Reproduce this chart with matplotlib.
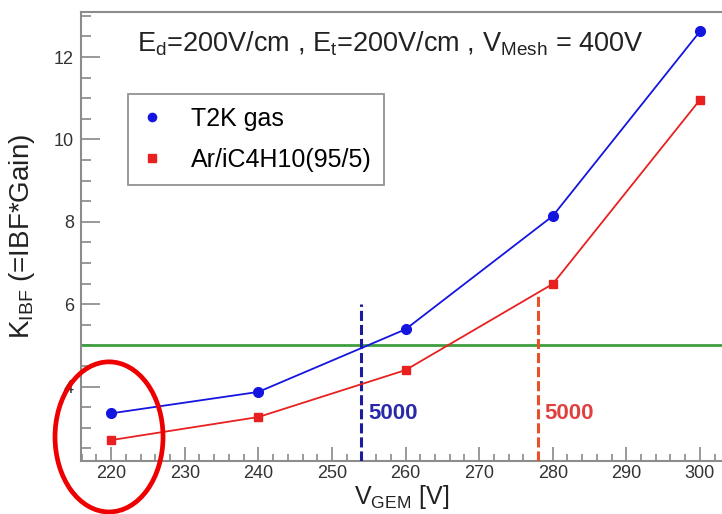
import matplotlib
matplotlib.use("Agg")
import matplotlib.pyplot as plt
from matplotlib.patches import Ellipse
from matplotlib.ticker import MultipleLocator

plt.rcParams['font.family'] = ['Liberation Sans', 'DejaVu Sans']
plt.rcParams['mathtext.fontset'] = 'custom'
plt.rcParams['mathtext.rm'] = 'Liberation Sans'
plt.rcParams['mathtext.it'] = 'Liberation Sans:italic'

# K_IBF vs GEM voltage for the two gas mixtures
v_gem = [220, 240, 260, 280, 300]
k_t2k = [3.35, 3.87, 5.39, 8.14, 12.62]
k_ar = [2.70, 3.26, 4.40, 6.49, 10.96]

k_limit = 5.0                 # horizontal reference level
gain_v = [254, 278]           # V_GEM where gain reaches 5000
gain_top = [6.0, 6.3]
gain_text = ["5000", "5000"]
gain_colors = ["#1c1c9c", "#e8502a"]
text_colors = ["#2a2aa8", "#e04040"]

fig = plt.figure(figsize=(7.22, 5.14), dpi=100)
ax = fig.add_axes([0.1122, 0.1037, 0.8878, 0.8735])

ax.set_xlim(215.9, 303.0)
ax.set_ylim(2.2, 13.1)

ax.axhline(k_limit, color="#3f9e3f", lw=2.0, zorder=2)
for x, top, c in zip(gain_v, gain_top, gain_colors):
    ax.vlines(x, 2.2, top, colors=c, lw=2.2, linestyles=(0, (3.3, 1.3)), zorder=3)
for x, t, c in zip(gain_v, gain_text, text_colors):
    ax.text(x + 0.9, 3.35, t, color=c, fontsize=16, fontweight="bold",
            va="center", ha="left")

ax.plot(v_gem, k_t2k, color="#1515e0", lw=1.3, marker="o", ms=7,
        label="T2K gas", zorder=4)
ax.plot(v_gem, k_ar, color="#e82020", lw=1.3, marker="s", ms=6,
        label="Ar/iC4H10(95/5)", zorder=4)

leg = ax.legend(loc="upper left", bbox_to_anchor=(0.0734, 0.8165), fontsize=18,
                frameon=True, fancybox=False, handlelength=0.9, handletextpad=1.1,
                borderpad=0.5, labelspacing=0.7, numpoints=1, borderaxespad=0,
                markerscale=0.85)
for h in leg.legend_handles:
    h.set_linestyle("None")
leg.get_frame().set_edgecolor("#777777")
leg.get_frame().set_linewidth(1.3)

ax.text(0.087, 0.911,
        r"E$_\mathregular{d}$=200V/cm , E$_\mathregular{t}$=200V/cm , "
        r"V$_\mathregular{Mesh}$ = 400V",
        transform=ax.transAxes, fontsize=19.5, color="#222222", va="baseline")

ax.xaxis.set_major_locator(MultipleLocator(10))
ax.xaxis.set_minor_locator(MultipleLocator(2))
ax.yaxis.set_major_locator(MultipleLocator(2))
ax.yaxis.set_minor_locator(MultipleLocator(0.5))
ax.tick_params(which="both", direction="in", color="#888888", width=1.2,
               labelsize=13, labelcolor="#333333", top=False, right=False)
ax.tick_params(axis="x", which="major", length=10, pad=3)
ax.tick_params(axis="x", which="minor", length=5)
ax.tick_params(axis="y", which="major", length=14, pad=5)
ax.tick_params(axis="y", which="minor", length=7.5)

for s in ["left", "bottom", "top"]:
    ax.spines[s].set_color("#8c8c8c")
    ax.spines[s].set_linewidth(1.5)
ax.spines["right"].set_visible(False)

ax.set_xlabel(r"V$_\mathregular{GEM}$ [V]", fontsize=18, color="#222222",
              labelpad=1)
ax.set_ylabel(r"K$_\mathregular{IBF}$ (=IBF*Gain)", fontsize=20,
              color="#222222", labelpad=12)

fig.add_artist(Ellipse((0.151, 0.150), 0.1496, 0.292, transform=fig.transFigure,
                       fill=False, edgecolor="#ee0000", lw=3.4, zorder=10))

fig.savefig("out.png", dpi=100)
